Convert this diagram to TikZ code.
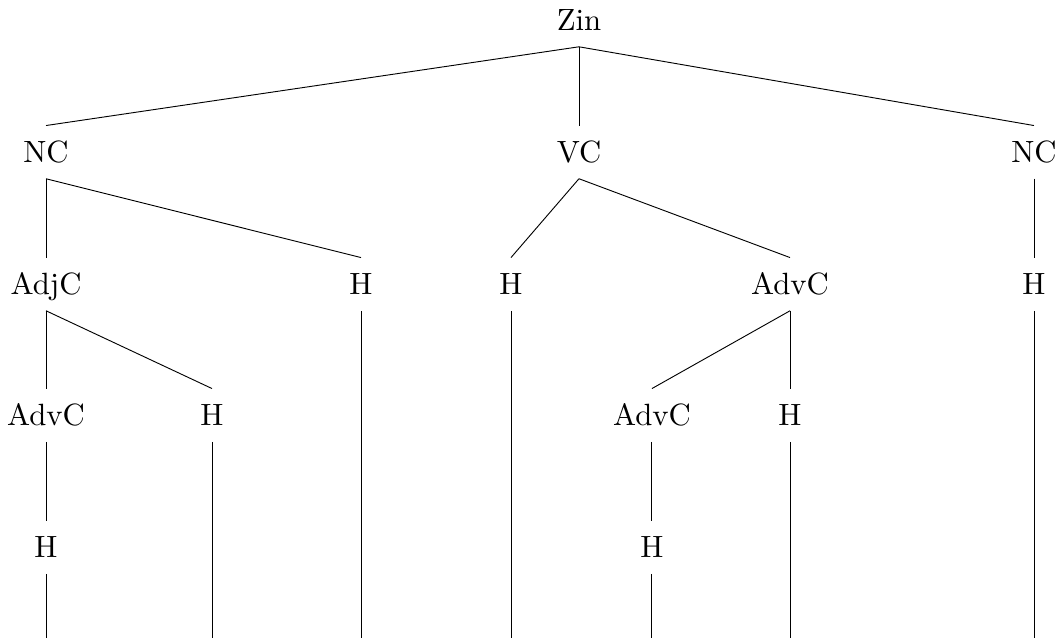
\documentclass[tikz,border=0pt]{standalone}
\usepackage{tikz}
\usetikzlibrary{positioning}

\begin{document}
\begin{tikzpicture}[cat/.style={anchor=base,inner sep=0pt,text height=12pt,text depth=5pt},
  every path/.style={line width=0.3pt}]
\useasboundingbox (0,0) rectangle (12.126,7.291);
% \draw[help lines] (0,0) grid (12,7);
\node (zin) [cat] at (6.617,6.937) {Zin};
\node (nc1) [cat] at (0.526,5.429) {NC};
\node (vc) [cat] at (6.617,5.429) {VC};
\node (nc2) [cat] at (11.817,5.429) {NC};
%
\node (adjc) [cat] at (0.526,3.920) {AdjC};
\node (h1) [cat] at (4.126,3.920) {H};
\node (h2) [cat] at (5.840,3.920) {H};
\node (advc1) [cat] at (9.029,3.920) {AdvC};
\node (h3) [cat] at (11.817,3.920) {H};
%
\node (advc2) [cat] at (0.526,2.423) {AdvC};
\node (h4) [cat] at (2.423,2.423) {H};
\node (advc3) [cat] at (7.451,2.423) {AdvC};
\node (h5) [cat] at (9.029,2.423) {H};
%
\node (h6) [cat] at (0.526,0.914) {H};
\node (h7) [cat] at (7.451,0.914) {H};
%
\coordinate (e1) at (0.526,0);
\coordinate (e2) at (2.423,0);
\coordinate (e3) at (4.126,0);
\coordinate (e4) at (5.840,0);
\coordinate (e5) at (7.451,0);
\coordinate (e6) at (9.029,0);
\coordinate (e7) at (11.817,0);
%
\draw (zin.south) -- (nc1.north);
\draw (zin.south) -- (vc.north);
\draw (zin.south) -- (nc2.north);
\draw (nc1.south) -- (adjc.north);
\draw (nc1.south) -- (h1.north);
\draw (vc.south) -- (h2.north);
\draw (vc.south) -- (advc1.north);
\draw (nc2.south) -- (h3.north);
\draw (adjc.south) -- (advc2.north);
\draw (adjc.south) -- (h4.north);
\draw (advc1.south) -- (advc3.north);
\draw (advc1.south) -- (h5.north);
\draw (advc2.south) -- (h6.north);
\draw (advc3.south) -- (h7.north);
%
\draw (h6.south) -- (e1);
\draw (h4.south) -- (e2);
\draw (h1.south) -- (e3);
\draw (h2.south) -- (e4);
\draw (h7.south) -- (e5);
\draw (h5.south) -- (e6);
\draw (h3.south) -- (e7);
\end{tikzpicture}
\end{document}
